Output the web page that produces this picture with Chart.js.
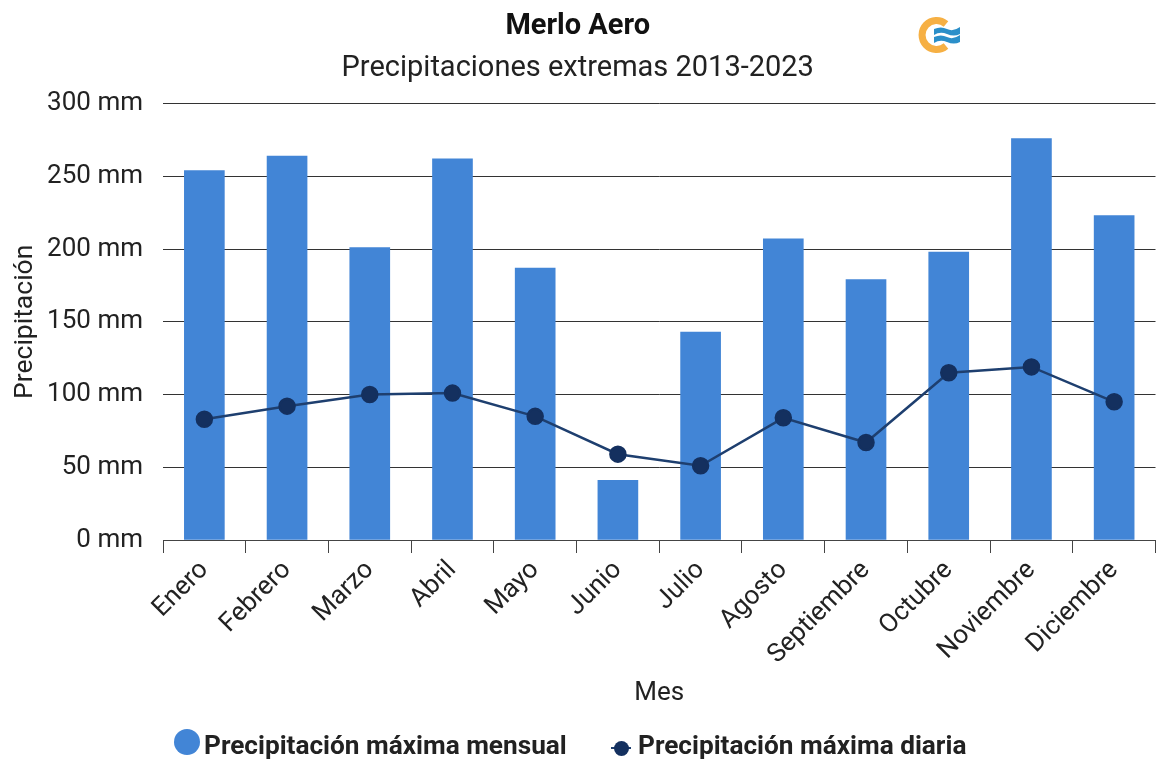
<!DOCTYPE html>
<html>
<head>
<meta charset="utf-8">
<title>Merlo Aero</title>
<script src="https://cdn.jsdelivr.net/npm/chart.js@4"></script>
<style>
  html, body { margin: 0; padding: 0; background: #fff; }
  #caja { position: relative; width: 1157px; height: 760px; overflow: hidden; font-family: Roboto, sans-serif; }
  #grafico { position: absolute; left: 0; top: 0; }
  .leyenda { position: absolute; top: 730px; font-size: 26.2px; line-height: 30px; font-weight: 700; color: #222; white-space: nowrap; }
  #logo { position: absolute; left: 910px; top: 10px; }
  .punto { position: absolute; border-radius: 50%; }
</style>
</head>
<body>
<div id="caja">
  <canvas id="grafico" width="1157" height="760"></canvas>
  <svg id="logo" width="56" height="50" viewBox="0 0 56 50">
    <path d="M36 14 A14.5 14.5 0 1 0 36 36" fill="none" stroke="#f6b044" stroke-width="7"/>
    <path d="M24 19 Q31 16 37 19 T50 17 V24 Q44 27 37 24 T24 25 Z" fill="#2b8fc9"/>
    <path d="M24 27 Q31 24 37 27 T50 25 V32 Q44 35 37 32 T24 33 Z" fill="#2b8fc9"/>
  </svg>
  <div class="punto" style="left:174px;top:729px;width:26px;height:26px;background:#4285d6"></div>
  <div class="leyenda" style="left:204px">Precipitación máxima mensual</div>
  <div style="position:absolute;left:611px;top:747px;width:20px;height:2px;background:#1e3f6f"></div>
  <div class="punto" style="left:614px;top:741px;width:15px;height:15px;background:#14305f"></div>
  <div class="leyenda" style="left:638px">Precipitación máxima diaria</div>
</div>
<script>
// datos
var meses = ["Enero", "Febrero", "Marzo", "Abril", "Mayo", "Junio", "Julio", "Agosto", "Septiembre", "Octubre", "Noviembre", "Diciembre"];
var maximaMensual = [254, 264, 201, 262, 187, 41, 143, 207, 179, 198, 276, 223];
var maximaDiaria = [83, 92, 100, 101, 85, 59, 51, 84, 67, 115, 119, 95];

var colorTexto = "#222222";

// sin esto la linea reserva margen a la derecha para sus puntos
Chart.registry.getController("line").prototype.getMaxOverflow = function () { return 0; };

new Chart(document.getElementById("grafico"), {
  type: "bar",
  data: {
    labels: meses,
    datasets: [
      {
        type: "line",
        label: "Precipitación máxima diaria",
        data: maximaDiaria,
        borderColor: "#1e3f6f",
        backgroundColor: "#14305f",
        pointBorderColor: "#14305f",
        borderWidth: 2.5,
        pointRadius: 7.5,
        pointHoverRadius: 7.5,
        tension: 0,
        order: 1
      },
      {
        label: "Precipitación máxima mensual",
        data: maximaMensual,
        backgroundColor: "#4285d6",
        barThickness: 40,
        order: 2
      }
    ]
  },
  options: {
    responsive: false,
    animation: false,
    layout: { padding: { top: 9, right: 1.5, bottom: 47, left: 0 } },
    plugins: {
      legend: { display: false },
      tooltip: { enabled: false },
      title: {
        display: true,
        text: "Merlo Aero",
        color: "#111111",
        font: { family: "Roboto", size: 29, weight: "700" },
        padding: { top: 0, bottom: 8 }
      },
      subtitle: {
        display: true,
        text: "Precipitaciones extremas 2013-2023",
        color: colorTexto,
        font: { family: "Roboto", size: 29, weight: "400" },
        padding: { top: 0, bottom: 17 }
      }
    },
    scales: {
      x: {
        offset: true,
        grid: { offset: true, drawOnChartArea: false, drawTicks: true, tickLength: 13, color: "#444444" },
        border: { color: "#444444" },
        ticks: { color: colorTexto, font: { family: "Roboto", size: 26 }, minRotation: 45, maxRotation: 45, padding: 2 },
        title: { display: true, text: "Mes", color: colorTexto, font: { family: "Roboto", size: 26 } },
        afterFit: function (escala) {
          escala.height = 173;
          escala.paddingRight = 0;
          escala.paddingLeft = 0;
        }
      },
      y: {
        min: 0,
        max: 300,
        grid: { color: "#333333", drawTicks: false },
        border: { display: false },
        ticks: {
          stepSize: 50,
          color: colorTexto,
          padding: 20,
          font: { family: "Roboto", size: 26 },
          callback: function (valor) { return valor + " mm"; }
        },
        title: { display: true, text: "Precipitación", color: colorTexto, font: { family: "Roboto", size: 26.5 }, padding: { top: 9, bottom: 0 } },
        afterFit: function (escala) { escala.width = 163; }
      }
    }
  }
});
</script>
</body>
</html>
